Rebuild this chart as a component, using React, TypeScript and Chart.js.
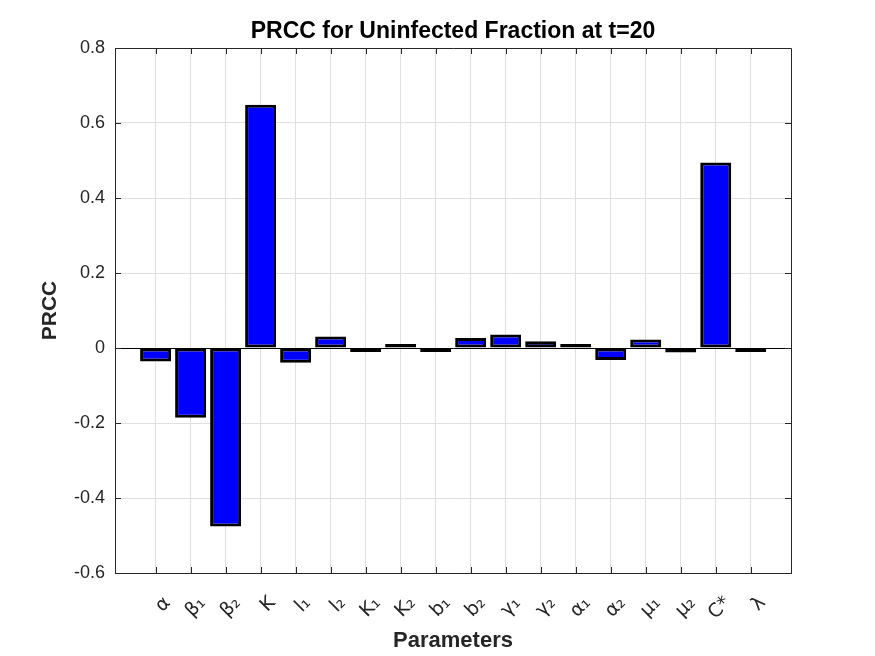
import React, { useEffect, useRef } from 'react';
import { Chart, registerables } from 'chart.js';

Chart.register(...registerables);

const parameterLabels = ['α', 'β₁', 'β₂', 'K', 'l₁', 'l₂', 'K₁', 'K₂', 'b₁', 'b₂', 'γ₁', 'γ₂', 'α₁', 'α₂', 'μ₁', 'μ₂', 'C*', 'λ'];
const prccValues = [-0.036, -0.186, -0.476, 0.649, -0.039, 0.031, -0.002, 0.002, -0.007, 0.027, 0.036, 0.018, 0.01, -0.032, 0.023, -0.012, 0.495, -0.003];
const yTickValues = [-0.6, -0.4, -0.2, 0, 0.2, 0.4, 0.6, 0.8];

const FONT = '"Liberation Sans", Arial, Helvetica, sans-serif';
const LABEL_FONT = '"DejaVu Sans", "Liberation Sans", sans-serif';
const AXIS_COLOR = '#262626';
const GRID_COLOR = '#dfdfdf';

export default function App() {
  const ref = useRef<HTMLCanvasElement>(null);

  useEffect(() => {
    if (!ref.current) return;
    const framePlugin = {
      id: 'matlabFrame',
      afterDraw(chart: any) {
        const { ctx, chartArea } = chart;
        const { left, right, top, bottom } = chartArea;
        ctx.save();
        ctx.strokeStyle = AXIS_COLOR;
        ctx.lineWidth = 1;
        ctx.beginPath();
        ctx.rect(Math.round(left) + 0.5, Math.round(top) + 0.5, Math.round(right - left), Math.round(bottom - top));
        ctx.stroke();
        const xs = chart.scales.x;
        const ys = chart.scales.y;
        const len = 6;
        ctx.beginPath();
        xs.ticks.forEach((t: any) => {
          const px = Math.round(xs.getPixelForValue(t.value)) + 0.5;
          ctx.moveTo(px, bottom);
          ctx.lineTo(px, bottom - len);
          ctx.moveTo(px, top);
          ctx.lineTo(px, top + len);
        });
        ys.ticks.forEach((t: any) => {
          const py = Math.round(ys.getPixelForValue(t.value)) + 0.5;
          ctx.moveTo(left, py);
          ctx.lineTo(left + len, py);
          ctx.moveTo(right, py);
          ctx.lineTo(right - len, py);
        });
        ctx.stroke();
        ctx.restore();
      },
    };

    const chart = new Chart(ref.current, {
      type: 'bar',
      data: {
        datasets: [
          {
            data: prccValues.map((v, i) => ({ x: i + 1, y: v })),
            backgroundColor: '#0000ff',
            borderColor: '#000000',
            borderWidth: 3,
            borderSkipped: false,
            barPercentage: 0.886,
            categoryPercentage: 1,
            minBarLength: 4,
          } as any,
        ],
      },
      options: {
        responsive: false,
        animation: false,
        devicePixelRatio: 1,
        layout: { padding: { left: 0, right: 84, top: 0, bottom: 0 } },
        plugins: {
          legend: { display: false },
          tooltip: { enabled: false },
          title: {
            display: true,
            fullSize: false,
            text: 'PRCC for Uninfected Fraction at t=20',
            color: '#000000',
            font: { family: FONT, size: 23, weight: 'bold' },
            padding: { top: 18, bottom: 2.4 },
          },
        },
        scales: {
          x: {
            type: 'linear',
            min: -0.16,
            max: 19.15,
            offset: false,
            afterBuildTicks: (s: any) => {
              s.ticks = parameterLabels.map((_, i) => ({ value: i + 1 }));
            },
            afterFit: (s: any) => {
              s.height = 83;
            },
            ticks: {
              callback: (v: any) => parameterLabels[Math.round(v) - 1] ?? '',
              minRotation: 45,
              maxRotation: 45,
              autoSkip: false,
              padding: 19,
              labelOffset: 12,
              color: AXIS_COLOR,
              font: { family: LABEL_FONT, size: 19 },
            },
            grid: { color: GRID_COLOR, drawTicks: false, offset: false },
            border: { display: true, color: AXIS_COLOR },
            title: {
              display: true,
              text: 'Parameters',
              color: AXIS_COLOR,
              font: { family: FONT, size: 22, weight: 'bold' },
              padding: { top: 0, bottom: 2 },
            },
          },
          y: {
            min: -0.6,
            max: 0.8,
            afterBuildTicks: (s: any) => {
              s.ticks = yTickValues.map((v) => ({ value: v }));
            },
            afterFit: (s: any) => {
              s.width = 115;
            },
            ticks: {
              callback: (v: any) => String(Math.round(v * 10) / 10),
              padding: 10,
              color: AXIS_COLOR,
              font: { family: FONT, size: 18 },
            },
            grid: {
              color: (c: any) => (c.tick && Math.abs(c.tick.value) < 1e-9 ? '#000000' : GRID_COLOR),
              drawTicks: false,
            },
            border: { display: true, color: AXIS_COLOR },
            title: {
              display: true,
              text: 'PRCC',
              color: AXIS_COLOR,
              font: { family: FONT, size: 21, weight: 'bold' },
              padding: { top: 38, bottom: 0 },
            },
          },
        },
      } as any,
      plugins: [framePlugin],
    });
    return () => chart.destroy();
  }, []);

  return (
    <div style={{ position: 'absolute', left: 0, top: 0, width: 875, height: 656, background: '#ffffff' }}>
      <canvas ref={ref} width={875} height={656} style={{ display: 'block' }} />
    </div>
  );
}
